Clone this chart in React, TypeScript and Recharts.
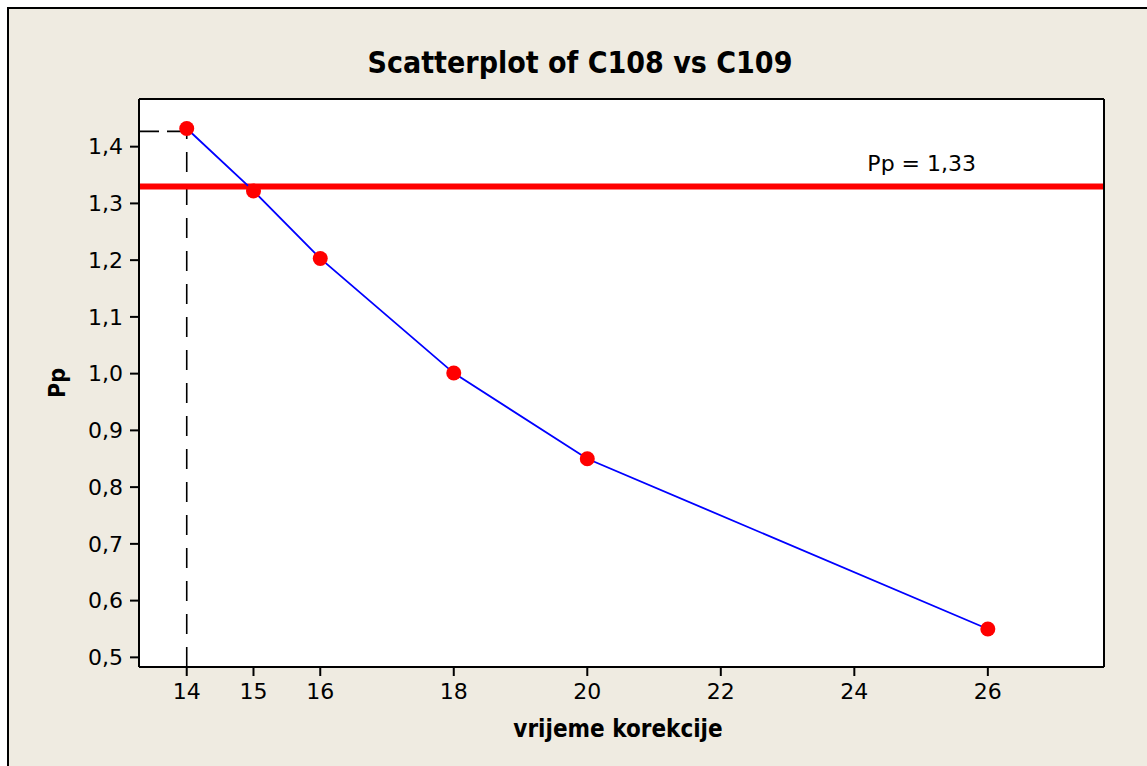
import React from 'react';
import { ComposedChart, Line, XAxis, YAxis, ReferenceLine, CartesianGrid } from 'recharts';

// vrijeme korekcije vs Pp
const correctionTimes = [14, 15, 16, 18, 20, 26];
const ppValues = [1.432, 1.322, 1.203, 1.001, 0.85, 0.55];
const xTicks = [14, 15, 16, 18, 20, 22, 24, 26];
const yTicks = [0.5, 0.6, 0.7, 0.8, 0.9, 1.0, 1.1, 1.2, 1.3, 1.4];
const xDomain = [13.285, 27.74];
const yDomain = [0.483, 1.484];
const targetPp = 1.33;
const markerX = 14;
const markerY = 1.427;

const data = correctionTimes.map((x, i) => ({ x, y: ppValues[i] }));

const BG = '#EFEBE1';
const FONT = "'DejaVu Sans', Verdana, sans-serif";
const FONT_BOLD = "'DejaVu Sans Condensed', 'DejaVu Sans', sans-serif";

const comma = (v: number) => v.toFixed(1).replace('.', ',');

const TargetLabel = (props: any) => {
    const vb = props.viewBox || {};
    return (
        <text x={vb.x + vb.width - 128} y={vb.y - 15} textAnchor="end" fontSize={22} fontFamily={FONT} fill="#000">
            Pp = 1,33
        </text>
    );
};

export default function App() {
    return (
        <div style={{ position: 'fixed', left: 0, top: 0, width: 1147, height: 766, overflow: 'hidden', background: '#fff' }}>
            <div style={{ position: 'absolute', left: 7, top: 7, width: 1180, height: 800, background: BG, border: '2px solid #000', boxSizing: 'border-box' }} />
            <div style={{ position: 'absolute', left: 0, top: 0 }}>
                <ComposedChart width={1147} height={766} data={data} margin={{ top: 98, right: 42, bottom: 49, left: 59 }}>
                    <CartesianGrid horizontal={false} vertical={false} fill="#FFFFFF" fillOpacity={1} stroke="none" />
                    <XAxis
                        type="number"
                        dataKey="x"
                        domain={xDomain}
                        allowDataOverflow
                        ticks={xTicks}
                        height={50}
                        tickSize={9}
                        tickMargin={7}
                        stroke="#000"
                        strokeWidth={2}
                        fontSize={22}
                        tick={{ fontSize: 22, fill: '#000', fontFamily: FONT }}
                    />
                    <XAxis xAxisId="top" type="number" orientation="top" domain={xDomain} allowDataOverflow height={1} tick={false} tickLine={false} stroke="#000" strokeWidth={2} />
                    <YAxis
                        type="number"
                        domain={yDomain}
                        allowDataOverflow
                        ticks={yTicks}
                        width={80}
                        tickSize={9}
                        tickMargin={7}
                        tickFormatter={comma}
                        stroke="#000"
                        strokeWidth={2}
                        fontSize={22}
                        tick={{ fontSize: 22, fill: '#000', fontFamily: FONT }}
                    />
                    <YAxis yAxisId="right" type="number" orientation="right" domain={yDomain} allowDataOverflow width={1} tick={false} tickLine={false} stroke="#000" strokeWidth={2} />
                    <ReferenceLine
                        segment={[{ x: markerX, y: yDomain[0] }, { x: markerX, y: markerY }]}
                        stroke="#000"
                        strokeWidth={1.6}
                        strokeDasharray="20 13"
                    />
                    <ReferenceLine
                        segment={[{ x: xDomain[0], y: markerY }, { x: markerX, y: markerY }]}
                        stroke="#000"
                        strokeWidth={1.6}
                        strokeDasharray="20 8"
                    />
                    <ReferenceLine y={targetPp} stroke="#FF0000" strokeWidth={6} label={<TargetLabel />} />
                    <Line
                        type="linear"
                        dataKey="y"
                        stroke="#0000FF"
                        strokeWidth={1.8}
                        dot={{ r: 7.5, fill: '#FF0000', stroke: 'none' }}
                        activeDot={false}
                        isAnimationActive={false}
                    />
                </ComposedChart>
            </div>
            <svg width={1147} height={766} style={{ position: 'absolute', left: 0, top: 0, pointerEvents: 'none' }}>
                <text x={580} y={73} textAnchor="middle" fontSize={30} fontWeight="bold" fontFamily={FONT_BOLD} fill="#000">
                    Scatterplot of C108 vs C109
                </text>
                <text x={618} y={737} textAnchor="middle" fontSize={24} fontWeight="bold" fontFamily={FONT_BOLD} fill="#000">
                    vrijeme korekcije
                </text>
                <text x={65} y={383} textAnchor="middle" fontSize={23} fontWeight="bold" fontFamily={FONT_BOLD} fill="#000" transform="rotate(-90 65 383)">
                    Pp
                </text>
            </svg>
        </div>
    );
}
